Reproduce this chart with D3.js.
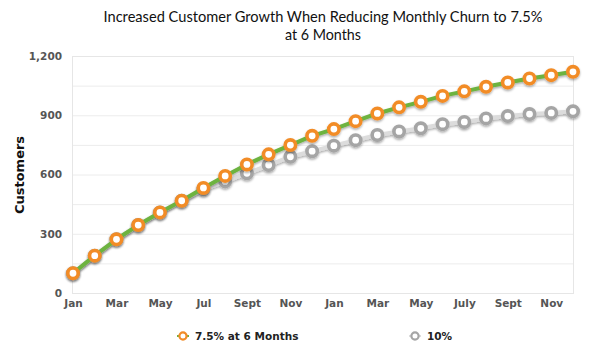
<!DOCTYPE html>
<html>
<head>
<meta charset="utf-8">
<script src="https://cdn.jsdelivr.net/npm/d3@7"></script>
<style>
html,body{margin:0;padding:0;background:#fff;}
svg{display:block;}
</style>
</head>
<body>
<svg id="chart" width="600" height="360"></svg>
<script>
const titleLines = ["Increased Customer Growth When Reducing Monthly Churn to 7.5%", "at 6 Months"];
const months = ["Jan","Feb","Mar","Apr","May","Jun","Jul","Aug","Sep","Oct","Nov","Dec",
                "Jan2","Feb2","Mar2","Apr2","May2","Jun2","Jul2","Aug2","Sep2","Oct2","Nov2","Dec2"];
const xTickLabels = {"Jan":"Jan","Mar":"Mar","May":"May","Jul":"Jul","Sep":"Sept","Nov":"Nov",
                     "Jan2":"Jan","Mar2":"Mar","May2":"May","Jul2":"July","Sep2":"Sept","Nov2":"Nov"};
const seriesNames = ["7.5% at 6 Months", "10%"];
const reduced = [100,189,272,344,408,467,532,593,651,702,749,796,830,870,909,940,968,998,1021,1044,1066,1086,1103,1120];
const baseline = [100,189,272,344,408,467,525,565,606,648,690,718,746,774,800,818,834,855,866,884,896,906,912,920];
const yTicks = [0,300,600,900,1200];
const yGrid = [150,300,450,600,750,900,1050,1200];

const svg = d3.select("#chart");
const m = {l:72, r:573, t:56, b:293};

const defs = svg.append("defs");
const f = defs.append("filter").attr("id","sh").attr("x","-20%").attr("y","-20%").attr("width","140%").attr("height","160%");
f.append("feDropShadow").attr("dx",0).attr("dy",1.5).attr("stdDeviation",1.2).attr("flood-color","#000").attr("flood-opacity",0.35);

const x = d3.scalePoint().domain(months).range([m.l+1, m.r]);
const y = d3.scaleLinear().domain([0,1200]).range([m.b, m.t]);

// title
svg.append("text").attr("x",323).attr("y",22).attr("text-anchor","middle")
  .attr("font-family","Lato, 'Open Sans', sans-serif").attr("font-size",15).attr("fill","#111")
  .attr("textLength",439).attr("lengthAdjust","spacingAndGlyphs")
  .text(titleLines[0]);
svg.append("text").attr("x",323).attr("y",40).attr("text-anchor","middle")
  .attr("font-family","Lato, 'Open Sans', sans-serif").attr("font-size",15).attr("fill","#111")
  .attr("textLength",76).attr("lengthAdjust","spacingAndGlyphs")
  .text(titleLines[1]);

// grid
svg.append("g").selectAll("line").data(yGrid).join("line")
  .attr("x1",m.l).attr("x2",m.r).attr("y1",d=>y(d)+0.5).attr("y2",d=>y(d)+0.5)
  .attr("stroke","#ececec").attr("stroke-width",1);
svg.append("rect").attr("x",m.l+0.5).attr("y",m.t+0.5).attr("width",m.r-m.l).attr("height",m.b-m.t)
  .attr("fill","none").attr("stroke","#e6e6e6");

// y axis
const yAxis = d3.axisLeft(y).tickValues(yTicks).tickSize(0).tickPadding(10).tickFormat(d3.format(","));
const gy = svg.append("g").attr("transform",`translate(${m.l},0)`).call(yAxis);
gy.select(".domain").remove();
gy.selectAll("text").attr("font-family","'DejaVu Sans', sans-serif").attr("font-weight","bold")
  .attr("font-size",10.5).attr("fill","#555");

// x axis
const xAxis = d3.axisBottom(x).tickValues(Object.keys(xTickLabels)).tickSize(0).tickPadding(7)
  .tickFormat(d=>xTickLabels[d]);
const gx = svg.append("g").attr("transform",`translate(0,${m.b})`).call(xAxis);
gx.select(".domain").remove();
gx.selectAll("text").attr("font-family","'DejaVu Sans', sans-serif").attr("font-weight","bold")
  .attr("font-size",10.5).attr("fill","#555");

// y title
svg.append("text").attr("transform","translate(24,175) rotate(-90)").attr("text-anchor","middle")
  .attr("font-family","'DejaVu Sans', sans-serif").attr("font-weight","bold").attr("font-size",13)
  .attr("fill","#111").text("Customers");

const line = d3.line().x((d,i)=>x(months[i])).y(d=>y(d));

function drawSeries(data, lineColor, markColor){
  const g = svg.append("g").attr("filter","url(#sh)");
  g.append("path").datum(data).attr("d",line).attr("fill","none")
    .attr("stroke",lineColor).attr("stroke-width",4).attr("stroke-linejoin","round");
  g.selectAll("circle").data(data).join("circle")
    .attr("cx",(d,i)=>x(months[i])).attr("cy",d=>y(d)).attr("r",5.2)
    .attr("fill","#fff").attr("stroke",markColor).attr("stroke-width",3.6);
}
drawSeries(baseline, "#dcdcdc", "#a5a5a5");
drawSeries(reduced, "#6db33f", "#f28c28");

// legend
const legend = [
  {name:seriesNames[0], x:183, line:"#6db33f", mark:"#f28c28"},
  {name:seriesNames[1], x:415, line:"#dcdcdc", mark:"#a5a5a5"}
];
const lg = svg.append("g");
legend.forEach(d=>{
  lg.append("line").attr("x1",d.x-6).attr("x2",d.x+6).attr("y1",336).attr("y2",336)
    .attr("stroke",d.line).attr("stroke-width",2);
  lg.append("circle").attr("cx",d.x).attr("cy",336).attr("r",3.6).attr("fill","#fff")
    .attr("stroke",d.mark).attr("stroke-width",2.2);
  lg.append("text").attr("x",d.x+12).attr("y",340).attr("font-family","'DejaVu Sans', sans-serif")
    .attr("font-weight","bold").attr("font-size",10.5).attr("fill","#222").text(d.name);
});
</script>
</body>
</html>
